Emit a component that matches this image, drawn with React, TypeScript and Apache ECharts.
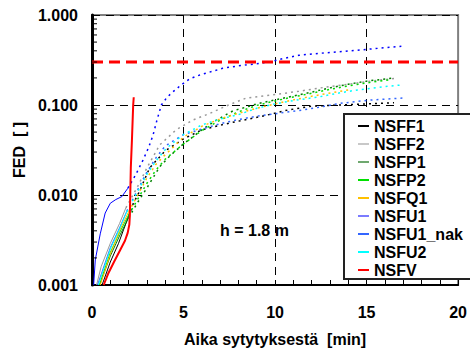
import React, { useEffect, useRef } from "react";
import * as echarts from "echarts";

const seriesNames = ["NSFF1", "NSFF2", "NSFP1", "NSFP2", "NSFQ1", "NSFU1", "NSFU1_nak", "NSFU2", "NSFV"];
const legendColors = ["#000000", "#c8c8c8", "#6fa86f", "#00e000", "#ffc000", "#7b7bff", "#3366ff", "#00ffff", "#ff0000"];
const lineColors = ["#000000", "#999999", "#008000", "#00dd00", "#ffc000", "#0000ff", "#3366ff", "#00ffff", "#ff0000"];

const NSFF1_early = [[0.55, 0.001], [1.0, 0.0018], [1.45, 0.0029], [1.72, 0.0041], [2.0, 0.0058]];
const NSFF1_late = [[2.0, 0.0058], [2.26, 0.0081], [2.54, 0.0104], [3.15, 0.02], [4.0, 0.031], [5.0, 0.042], [6.0, 0.053], [7.5, 0.063], [9.3, 0.075], [10.7, 0.088], [12.0, 0.097], [13.5, 0.1], [15.0, 0.103], [16.5, 0.106]];

const NSFF2_early = [[0.25, 0.001], [0.5, 0.0016], [1.0, 0.0029], [1.5, 0.0048], [1.85, 0.0072]];
const NSFF2_late = [[1.85, 0.0072], [2.5, 0.0125], [3.0, 0.02], [3.7, 0.036], [4.6, 0.053], [5.5, 0.068], [6.4, 0.08], [7.3, 0.097], [8.4, 0.119], [9.5, 0.127], [10.5, 0.135], [11.3, 0.142], [12.5, 0.155], [14.0, 0.17], [15.3, 0.185], [16.5, 0.197]];

const NSFP1_early = [[0.42, 0.001], [1.0, 0.0021], [1.5, 0.0035], [2.0, 0.0056]];
const NSFP1_late = [[2.0, 0.0056], [2.5, 0.0083], [3.0, 0.012], [3.7, 0.0206], [4.24, 0.027], [5.0, 0.037], [5.5, 0.044], [6.0, 0.053], [6.8, 0.068], [7.7, 0.086], [9.1, 0.104], [10.0, 0.114], [11.0, 0.126], [12.0, 0.139], [13.0, 0.155], [14.0, 0.17], [15.0, 0.184], [16.5, 0.2]];

const NSFP2_early = [[0.4, 0.001], [1.0, 0.0023], [1.5, 0.0038], [2.0, 0.006]];
const NSFP2_late = [[2.0, 0.006], [2.5, 0.009], [3.0, 0.0135], [3.5, 0.019], [4.0, 0.025], [5.0, 0.037], [6.0, 0.052], [7.0, 0.068], [8.0, 0.084], [9.0, 0.099], [10.0, 0.111], [11.0, 0.123], [12.0, 0.135], [13.0, 0.149], [14.0, 0.163], [15.0, 0.176], [16.2, 0.19]];

const NSFQ1_early = [[0.45, 0.001], [1.0, 0.0022], [1.5, 0.004], [2.0, 0.0065]];
const NSFQ1_late = [[2.0, 0.0065], [2.5, 0.01], [3.0, 0.0155], [3.5, 0.022], [4.0, 0.028], [4.5, 0.035], [5.0, 0.044], [6.0, 0.058], [7.0, 0.07], [8.0, 0.081], [9.0, 0.092], [10.0, 0.103], [11.0, 0.114], [12.0, 0.125], [13.1, 0.137], [14.0, 0.147]];

const NSFU1_early = [[0.09, 0.001], [0.18, 0.0019], [0.45, 0.0037], [0.72, 0.0063], [1.0, 0.0081], [1.3, 0.0089], [1.63, 0.0096], [1.96, 0.0119]];
const NSFU1_late = [[1.96, 0.0119], [2.4, 0.017], [2.79, 0.0245], [3.1, 0.034], [3.33, 0.046], [3.55, 0.068], [3.79, 0.1], [4.1, 0.122], [4.42, 0.14], [4.87, 0.167], [5.33, 0.195], [5.87, 0.215], [7.14, 0.256], [8.0, 0.272], [8.95, 0.287], [9.67, 0.3], [10.5, 0.33], [11.3, 0.357], [12.4, 0.375], [13.5, 0.39], [15.0, 0.415], [16.9, 0.45]];

const NSFU1nak_early = [[0.3, 0.001], [1.0, 0.0026], [1.5, 0.0043], [1.9, 0.0066]];
const NSFU1nak_late = [[1.9, 0.0066], [2.5, 0.0115], [3.0, 0.018], [3.5, 0.026], [4.0, 0.035], [5.0, 0.047], [6.0, 0.054], [7.0, 0.062], [8.0, 0.069], [9.0, 0.075], [10.2, 0.081], [11.5, 0.088], [12.5, 0.095], [13.5, 0.104], [15.1, 0.113], [17.1, 0.12]];

const NSFU2_early = [[0.35, 0.001], [1.0, 0.0025], [1.5, 0.0042], [1.9, 0.0065]];
const NSFU2_late = [[1.9, 0.0065], [2.5, 0.011], [3.0, 0.017], [3.5, 0.024], [4.06, 0.033], [5.0, 0.047], [6.0, 0.06], [7.0, 0.07], [8.0, 0.078], [9.0, 0.092], [10.0, 0.103], [11.0, 0.112], [12.4, 0.123], [13.5, 0.136], [14.5, 0.147], [16.0, 0.16], [16.9, 0.167]];

const NSFV_data = [[0.64, 0.001], [0.9, 0.00136], [1.2, 0.0018], [1.54, 0.00245], [1.8, 0.0031], [1.95, 0.0038], [2.04, 0.0047], [2.07, 0.006], [2.09, 0.01], [2.12, 0.02], [2.18, 0.04], [2.25, 0.1], [2.28, 0.122]];

const earlyData = [NSFF1_early, NSFF2_early, NSFP1_early, NSFP2_early, NSFQ1_early, NSFU1_early, NSFU1nak_early, NSFU2_early, NSFV_data];
const lateData = [NSFF1_late, NSFF2_late, NSFP1_late, NSFP2_late, NSFQ1_late, NSFU1_late, NSFU1nak_late, NSFU2_late, null];

const limitValue = 0.3;
const limitLine = [[0, limitValue], [20, limitValue]];
const yMinorTicks = [0.002, 0.003, 0.004, 0.005, 0.006, 0.007, 0.008, 0.009, 0.02, 0.03, 0.04, 0.05, 0.06, 0.07, 0.08, 0.09, 0.2, 0.3, 0.4, 0.5, 0.6, 0.7, 0.8, 0.9];

const FONT = "'Liberation Sans', Arial, sans-serif";

export default function App() {
  const ref = useRef<HTMLDivElement>(null);
  useEffect(() => {
    document.body.style.margin = "0";
    const chart = echarts.init(ref.current!, null, { renderer: "svg" });
    const series: any[] = [];
    seriesNames.forEach((name, i) => {
      series.push({
        name,
        type: "line",
        data: earlyData[i],
        symbol: "none",
        z: 3,
        lineStyle: { color: lineColors[i], width: name === "NSFV" ? 2 : 1, type: "solid" },
        itemStyle: { color: legendColors[i] },
      });
      if (lateData[i]) {
        series.push({
          name,
          type: "line",
          data: lateData[i],
          symbol: "none",
          z: 3,
          lineStyle: { color: lineColors[i], width: 1.5, type: [2, 4] },
          itemStyle: { color: legendColors[i] },
        });
      }
    });
    series.push({
      name: "limit",
      type: "line",
      data: limitLine,
      symbol: "none",
      z: 4,
      lineStyle: { color: "#ff0000", width: 3, type: [11, 6] },
    });
    series.push({
      name: "yminor",
      type: "custom",
      data: yMinorTicks.map((v) => [0, v]),
      encode: { x: 0, y: 1 },
      silent: true,
      z: 5,
      renderItem: (params: any, api: any) => {
        const p = api.coord([api.value(0), api.value(1)]);
        return {
          type: "line",
          shape: { x1: p[0], y1: p[1], x2: p[0] + 5, y2: p[1] },
          style: { stroke: "#000", lineWidth: 1 },
        };
      },
    });

    chart.setOption({
      animation: false,
      textStyle: { fontFamily: FONT },
      grid: {
        left: 92, top: 15, right: 9, bottom: 67,
        show: true, borderColor: "#808080", borderWidth: 2, backgroundColor: "transparent",
      },
      xAxis: {
        type: "value", min: 0, max: 20, interval: 5,
        name: "Aika sytytyksestä  [min]", nameLocation: "middle", nameGap: 46,
        nameTextStyle: { fontSize: 16, fontWeight: "bold", color: "#000", fontFamily: FONT },
        axisLine: { lineStyle: { color: "#000", width: 2 } },
        axisTick: { inside: true, length: 5, lineStyle: { color: "#000" } },
        minorTick: { show: true, splitNumber: 5, length: 5, lineStyle: { color: "#000" } },
        axisLabel: { fontSize: 16, fontWeight: "bold", color: "#000", margin: 19, fontFamily: FONT },
        splitLine: { show: true, showMinLine: false, showMaxLine: false, lineStyle: { color: "#000", type: [8, 6], width: 1 } },
      },
      yAxis: {
        type: "log", logBase: 10, min: 0.001, max: 1,
        name: "FED  [ ]", nameLocation: "middle", nameGap: 62,
        nameTextStyle: { fontSize: 16, fontWeight: "bold", color: "#000", fontFamily: FONT },
        axisLine: { lineStyle: { color: "#000", width: 3 } },
        axisTick: { inside: true, length: 5, lineStyle: { color: "#000" } },
        axisLabel: {
          fontSize: 16, fontWeight: "bold", color: "#000", margin: 14, fontFamily: FONT,
          formatter: (v: number) => v.toFixed(3),
        },
        splitLine: { show: true, showMinLine: false, showMaxLine: true, lineStyle: { color: "#000", type: [8, 6], width: 1 } },
      },
      legend: {
        orient: "vertical",
        left: 353, top: 113,
        z: 6,
        itemWidth: 11, itemHeight: 2, itemGap: 2,
        icon: "rect",
        textStyle: { fontSize: 16, fontWeight: "bold", color: "#000", fontFamily: FONT, padding: [0, 0, 0, 0] },
        data: seriesNames.map((n, i) => ({ name: n, icon: "rect", itemStyle: { color: legendColors[i] } })),
      },
      graphic: [
        {
          type: "rect", z: 5, left: 343, top: 113,
          shape: { width: 140, height: 165 },
          style: { fill: "#fff", stroke: "#222", lineWidth: 2 },
        },
        {
          type: "text", z: 6, left: 220, top: 222,
          style: { text: "h = 1.8 m", font: `bold 16px ${FONT}`, fill: "#000" },
        },
      ],
      series,
    });
    return () => chart.dispose();
  }, []);
  return <div ref={ref} style={{ width: 470, height: 352 }} />;
}
